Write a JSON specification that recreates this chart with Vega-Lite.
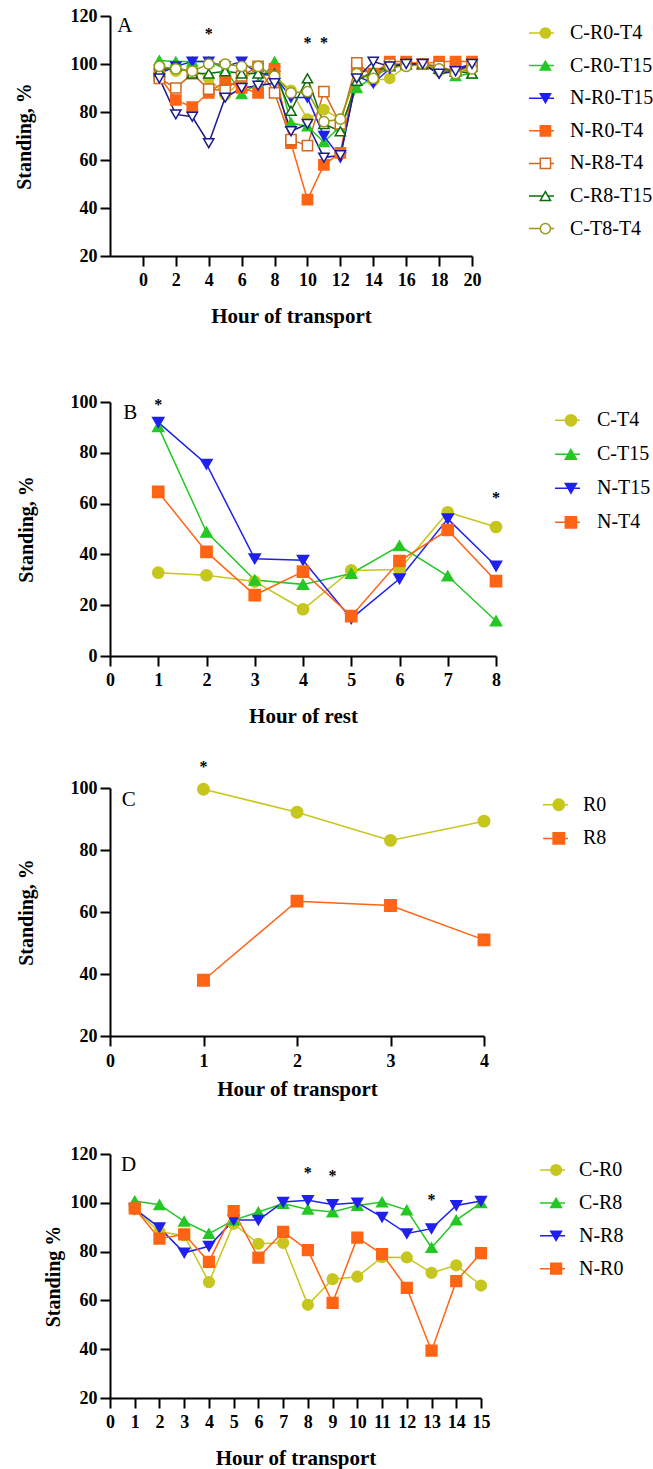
{
"$schema": "https://vega.github.io/schema/vega-lite/v6.json",
"background": "white",
"padding": {"left": 14, "top": 7, "right": 0, "bottom": 0},
"spacing": 10,
"bounds": "full",
"resolve": {"scale": {"color": "independent", "shape": "independent", "stroke": "independent", "fill": "independent"}, "legend": {"color": "independent", "shape": "independent", "stroke": "independent", "fill": "independent"}},
"datasets": {
"a": [
{"series":"C-R0-T4","hour":1,"value":99},{"series":"C-R0-T4","hour":2,"value":97},{"series":"C-R0-T4","hour":3,"value":98},{"series":"C-R0-T4","hour":4,"value":94},{"series":"C-R0-T4","hour":5,"value":87},{"series":"C-R0-T4","hour":6,"value":93},{"series":"C-R0-T4","hour":7,"value":98.5},{"series":"C-R0-T4","hour":8,"value":95},{"series":"C-R0-T4","hour":9,"value":89},{"series":"C-R0-T4","hour":10,"value":77},{"series":"C-R0-T4","hour":11,"value":81},{"series":"C-R0-T4","hour":12,"value":77},{"series":"C-R0-T4","hour":13,"value":96},{"series":"C-R0-T4","hour":14,"value":93},{"series":"C-R0-T4","hour":15,"value":94},{"series":"C-R0-T4","hour":16,"value":99},{"series":"C-R0-T4","hour":17,"value":100},{"series":"C-R0-T4","hour":18,"value":97},{"series":"C-R0-T4","hour":19,"value":96},{"series":"C-R0-T4","hour":20,"value":99},
{"series":"C-R0-T15","hour":1,"value":101.5},{"series":"C-R0-T15","hour":2,"value":101},{"series":"C-R0-T15","hour":3,"value":101},{"series":"C-R0-T15","hour":4,"value":101},{"series":"C-R0-T15","hour":5,"value":98},{"series":"C-R0-T15","hour":6,"value":87.5},{"series":"C-R0-T15","hour":7,"value":92},{"series":"C-R0-T15","hour":8,"value":101},{"series":"C-R0-T15","hour":9,"value":75.5},{"series":"C-R0-T15","hour":10,"value":74},{"series":"C-R0-T15","hour":11,"value":67.5},{"series":"C-R0-T15","hour":12,"value":74},{"series":"C-R0-T15","hour":13,"value":90},{"series":"C-R0-T15","hour":14,"value":94.5},{"series":"C-R0-T15","hour":15,"value":99.5},{"series":"C-R0-T15","hour":16,"value":100},{"series":"C-R0-T15","hour":17,"value":100},{"series":"C-R0-T15","hour":18,"value":99},{"series":"C-R0-T15","hour":19,"value":95},{"series":"C-R0-T15","hour":20,"value":96},
{"series":"N-R0-T15","hour":1,"value":96},{"series":"N-R0-T15","hour":2,"value":99},{"series":"N-R0-T15","hour":3,"value":101},{"series":"N-R0-T15","hour":4,"value":101},{"series":"N-R0-T15","hour":5,"value":99},{"series":"N-R0-T15","hour":6,"value":101},{"series":"N-R0-T15","hour":7,"value":96},{"series":"N-R0-T15","hour":8,"value":95},{"series":"N-R0-T15","hour":9,"value":86},{"series":"N-R0-T15","hour":10,"value":86},{"series":"N-R0-T15","hour":11,"value":70},{"series":"N-R0-T15","hour":12,"value":61},{"series":"N-R0-T15","hour":13,"value":95},{"series":"N-R0-T15","hour":14,"value":92},{"series":"N-R0-T15","hour":15,"value":98},{"series":"N-R0-T15","hour":16,"value":100},{"series":"N-R0-T15","hour":17,"value":100},{"series":"N-R0-T15","hour":18,"value":96},{"series":"N-R0-T15","hour":19,"value":98},{"series":"N-R0-T15","hour":20,"value":100},
{"series":"N-R0-T4","hour":1,"value":95},{"series":"N-R0-T4","hour":2,"value":85},{"series":"N-R0-T4","hour":3,"value":82},{"series":"N-R0-T4","hour":4,"value":88},{"series":"N-R0-T4","hour":5,"value":93},{"series":"N-R0-T4","hour":6,"value":90},{"series":"N-R0-T4","hour":7,"value":88},{"series":"N-R0-T4","hour":8,"value":98},{"series":"N-R0-T4","hour":9,"value":67},{"series":"N-R0-T4","hour":10,"value":43.5},{"series":"N-R0-T4","hour":11,"value":58},{"series":"N-R0-T4","hour":12,"value":63},{"series":"N-R0-T4","hour":13,"value":98},{"series":"N-R0-T4","hour":14,"value":96},{"series":"N-R0-T4","hour":15,"value":101},{"series":"N-R0-T4","hour":16,"value":101},{"series":"N-R0-T4","hour":17,"value":100},{"series":"N-R0-T4","hour":18,"value":101},{"series":"N-R0-T4","hour":19,"value":101},{"series":"N-R0-T4","hour":20,"value":101},
{"series":"N-R8-T4","hour":1,"value":94},{"series":"N-R8-T4","hour":2,"value":90},{"series":"N-R8-T4","hour":3,"value":96},{"series":"N-R8-T4","hour":4,"value":89.5},{"series":"N-R8-T4","hour":5,"value":89},{"series":"N-R8-T4","hour":6,"value":95},{"series":"N-R8-T4","hour":7,"value":99},{"series":"N-R8-T4","hour":8,"value":88},{"series":"N-R8-T4","hour":9,"value":68.5},{"series":"N-R8-T4","hour":10,"value":66},{"series":"N-R8-T4","hour":11,"value":88.5},{"series":"N-R8-T4","hour":12,"value":75},{"series":"N-R8-T4","hour":13,"value":100.5},{"series":"N-R8-T4","hour":14,"value":95},{"series":"N-R8-T4","hour":15,"value":100},{"series":"N-R8-T4","hour":16,"value":100},{"series":"N-R8-T4","hour":17,"value":100},{"series":"N-R8-T4","hour":18,"value":99},{"series":"N-R8-T4","hour":19,"value":97},{"series":"N-R8-T4","hour":20,"value":99},
{"series":"C-R8-T15","hour":1,"value":97},{"series":"C-R8-T15","hour":2,"value":99},{"series":"C-R8-T15","hour":3,"value":96},{"series":"C-R8-T15","hour":4,"value":96},{"series":"C-R8-T15","hour":5,"value":97},{"series":"C-R8-T15","hour":6,"value":96},{"series":"C-R8-T15","hour":7,"value":96},{"series":"C-R8-T15","hour":8,"value":96},{"series":"C-R8-T15","hour":9,"value":80.5},{"series":"C-R8-T15","hour":10,"value":94},{"series":"C-R8-T15","hour":11,"value":75},{"series":"C-R8-T15","hour":12,"value":72},{"series":"C-R8-T15","hour":13,"value":93},{"series":"C-R8-T15","hour":14,"value":97},{"series":"C-R8-T15","hour":15,"value":99},{"series":"C-R8-T15","hour":16,"value":100},{"series":"C-R8-T15","hour":17,"value":100},{"series":"C-R8-T15","hour":18,"value":98},{"series":"C-R8-T15","hour":19,"value":97},{"series":"C-R8-T15","hour":20,"value":96},
{"series":"C-T8-T4","hour":1,"value":99},{"series":"C-T8-T4","hour":2,"value":98},{"series":"C-T8-T4","hour":3,"value":97},{"series":"C-T8-T4","hour":4,"value":100},{"series":"C-T8-T4","hour":5,"value":100},{"series":"C-T8-T4","hour":6,"value":99},{"series":"C-T8-T4","hour":7,"value":99},{"series":"C-T8-T4","hour":8,"value":95},{"series":"C-T8-T4","hour":9,"value":88},{"series":"C-T8-T4","hour":10,"value":88.5},{"series":"C-T8-T4","hour":11,"value":76},{"series":"C-T8-T4","hour":12,"value":77},{"series":"C-T8-T4","hour":13,"value":96},{"series":"C-T8-T4","hour":14,"value":94},{"series":"C-T8-T4","hour":15,"value":99},{"series":"C-T8-T4","hour":16,"value":99},{"series":"C-T8-T4","hour":17,"value":100},{"series":"C-T8-T4","hour":18,"value":98},{"series":"C-T8-T4","hour":19,"value":96},{"series":"C-T8-T4","hour":20,"value":98},
{"series":"N-R8-T15","hour":1,"value":94},{"series":"N-R8-T15","hour":2,"value":79},{"series":"N-R8-T15","hour":3,"value":78},{"series":"N-R8-T15","hour":4,"value":67},{"series":"N-R8-T15","hour":5,"value":86},{"series":"N-R8-T15","hour":6,"value":90},{"series":"N-R8-T15","hour":7,"value":91},{"series":"N-R8-T15","hour":8,"value":92},{"series":"N-R8-T15","hour":9,"value":72},{"series":"N-R8-T15","hour":10,"value":75},{"series":"N-R8-T15","hour":11,"value":61},{"series":"N-R8-T15","hour":12,"value":62},{"series":"N-R8-T15","hour":13,"value":94},{"series":"N-R8-T15","hour":14,"value":101},{"series":"N-R8-T15","hour":15,"value":99},{"series":"N-R8-T15","hour":16,"value":100},{"series":"N-R8-T15","hour":17,"value":100},{"series":"N-R8-T15","hour":18,"value":96},{"series":"N-R8-T15","hour":19,"value":97},{"series":"N-R8-T15","hour":20,"value":100}
],
"a_star": [{"hour":4,"value":114.7,"t":"*"},{"hour":10,"value":111,"t":"*"},{"hour":11,"value":111,"t":"*"}],
"a_letter": [{"hour":-1.1,"value":116,"t":"A"}],
"b": [
{"series":"C-T4","hour":1,"value":32.8},{"series":"C-T4","hour":2,"value":31.8},{"series":"C-T4","hour":3,"value":29.3},{"series":"C-T4","hour":4,"value":18.4},{"series":"C-T4","hour":5,"value":33.7},{"series":"C-T4","hour":6,"value":34.1},{"series":"C-T4","hour":7,"value":56.6},{"series":"C-T4","hour":8,"value":50.8},
{"series":"C-T15","hour":1,"value":90.3},{"series":"C-T15","hour":2,"value":48.8},{"series":"C-T15","hour":3,"value":29.9},{"series":"C-T15","hour":4,"value":28.2},{"series":"C-T15","hour":5,"value":32.5},{"series":"C-T15","hour":6,"value":43.4},{"series":"C-T15","hour":7,"value":31.5},{"series":"C-T15","hour":8,"value":13.8},
{"series":"N-T15","hour":1,"value":92},{"series":"N-T15","hour":2,"value":75.5},{"series":"N-T15","hour":3,"value":38.3},{"series":"N-T15","hour":4,"value":37.7},{"series":"N-T15","hour":5,"value":14.7},{"series":"N-T15","hour":6,"value":30.4},{"series":"N-T15","hour":7,"value":54},{"series":"N-T15","hour":8,"value":35.4},
{"series":"N-T4","hour":1,"value":64.6},{"series":"N-T4","hour":2,"value":41},{"series":"N-T4","hour":3,"value":24},{"series":"N-T4","hour":4,"value":33.2},{"series":"N-T4","hour":5,"value":15.7},{"series":"N-T4","hour":6,"value":37.4},{"series":"N-T4","hour":7,"value":49.6},{"series":"N-T4","hour":8,"value":29.5}
],
"b_star": [{"hour":1,"value":100.6,"t":"*"},{"hour":8,"value":64,"t":"*"}],
"b_letter": [{"hour":0.42,"value":95.7,"t":"B"}],
"c": [
{"series":"R0","hour":1,"value":99.6},{"series":"R0","hour":2,"value":92.2},{"series":"R0","hour":3,"value":83.1},{"series":"R0","hour":4,"value":89.3},
{"series":"R8","hour":1,"value":38},{"series":"R8","hour":2,"value":63.5},{"series":"R8","hour":3,"value":62.1},{"series":"R8","hour":4,"value":51}
],
"c_star": [{"hour":1,"value":108.5,"t":"*"}],
"c_letter": [{"hour":0.2,"value":96.1,"t":"C"}],
"d": [
{"series":"C-R0","hour":1,"value":97.3},{"series":"C-R0","hour":2,"value":88.1},{"series":"C-R0","hour":3,"value":86.6},{"series":"C-R0","hour":4,"value":67.5},{"series":"C-R0","hour":5,"value":91.4},{"series":"C-R0","hour":6,"value":83.2},{"series":"C-R0","hour":7,"value":83.6},{"series":"C-R0","hour":8,"value":58.2},{"series":"C-R0","hour":9,"value":68.7},{"series":"C-R0","hour":10,"value":69.7},{"series":"C-R0","hour":11,"value":77.7},{"series":"C-R0","hour":12,"value":77.6},{"series":"C-R0","hour":13,"value":71.3},{"series":"C-R0","hour":14,"value":74.4},{"series":"C-R0","hour":15,"value":66.1},
{"series":"C-R8","hour":1,"value":100.7},{"series":"C-R8","hour":2,"value":99.2},{"series":"C-R8","hour":3,"value":92.4},{"series":"C-R8","hour":4,"value":87.4},{"series":"C-R8","hour":5,"value":92.9},{"series":"C-R8","hour":6,"value":96.2},{"series":"C-R8","hour":7,"value":99.7},{"series":"C-R8","hour":8,"value":97.3},{"series":"C-R8","hour":9,"value":96.2},{"series":"C-R8","hour":10,"value":98.9},{"series":"C-R8","hour":11,"value":100.3},{"series":"C-R8","hour":12,"value":97},{"series":"C-R8","hour":13,"value":81.6},{"series":"C-R8","hour":14,"value":92.9},{"series":"C-R8","hour":15,"value":100},
{"series":"N-R8","hour":1,"value":97.5},{"series":"N-R8","hour":2,"value":89.8},{"series":"N-R8","hour":3,"value":79.5},{"series":"N-R8","hour":4,"value":82.2},{"series":"N-R8","hour":5,"value":92.9},{"series":"N-R8","hour":6,"value":92.9},{"series":"N-R8","hour":7,"value":100.3},{"series":"N-R8","hour":8,"value":101},{"series":"N-R8","hour":9,"value":99.3},{"series":"N-R8","hour":10,"value":100},{"series":"N-R8","hour":11,"value":94.1},{"series":"N-R8","hour":12,"value":87.4},{"series":"N-R8","hour":13,"value":89.4},{"series":"N-R8","hour":14,"value":98.9},{"series":"N-R8","hour":15,"value":100.7},
{"series":"N-R0","hour":1,"value":97.7},{"series":"N-R0","hour":2,"value":85.3},{"series":"N-R0","hour":3,"value":87.1},{"series":"N-R0","hour":4,"value":75.8},{"series":"N-R0","hour":5,"value":96.6},{"series":"N-R0","hour":6,"value":77.5},{"series":"N-R0","hour":7,"value":88.1},{"series":"N-R0","hour":8,"value":80.6},{"series":"N-R0","hour":9,"value":59},{"series":"N-R0","hour":10,"value":85.7},{"series":"N-R0","hour":11,"value":79},{"series":"N-R0","hour":12,"value":65.1},{"series":"N-R0","hour":13,"value":39.4},{"series":"N-R0","hour":14,"value":67.9},{"series":"N-R0","hour":15,"value":79.4}
],
"d_star": [{"hour":8,"value":114.4,"t":"*"},{"hour":9,"value":112.9,"t":"*"},{"hour":13,"value":103.3,"t":"*"}],
"d_letter": [{"hour":0.75,"value":115.4,"t":"D"}]
},
"vconcat": [
{
"width": 362, "height": 240,
"encoding": {
"x": {"field": "hour", "type": "quantitative", "scale": {"domain": [-2, 20], "nice": false, "zero": false}, "axis": {"values": [0,2,4,6,8,10,12,14,16,18,20], "title": "Hour of transport", "titlePadding": 16.5}},
"y": {"field": "value", "type": "quantitative", "scale": {"domain": [20, 120], "nice": false, "zero": false}, "axis": {"values": [20,40,60,80,100,120], "title": "Standing, %", "titlePadding": 36}}
},
"layer": [
{"data": {"name": "a"}, "mark": {"type": "line", "strokeWidth": 1.5},
 "encoding": {"color": {"field": "series", "type": "nominal",
  "scale": {"domain": ["N-R8-T15","C-R0-T4","C-R0-T15","N-R0-T15","N-R0-T4","N-R8-T4","C-R8-T15","C-T8-T4"], "range": ["#1b1b8f","#c6c61e","#25c725","#2020ee","#ff6414","#d2691e","#0c6b0c","#999918"]},
  "legend": {"title": null, "orient": "none", "legendX": 418, "legendY": 7, "symbolType": "stroke", "symbolSize": 625, "symbolStrokeWidth": 1.5, "labelOffset": 15, "rowPadding": 12.6, "clipHeight": 20, "values": ["C-R0-T4","C-R0-T15","N-R0-T15","N-R0-T4","N-R8-T4","C-R8-T15","C-T8-T4"]}}}},
{"data": {"name": "a"}, "mark": {"type": "point", "opacity": 1, "strokeWidth": 1.5, "size": 105},
 "encoding": {
  "shape": {"field": "series", "type": "nominal", "scale": {"domain": ["C-R0-T4","C-R0-T15","N-R0-T15","N-R0-T4","N-R8-T4","C-R8-T15","C-T8-T4","N-R8-T15"], "range": ["circle","triangle-up","triangle-down","square","square","triangle-up","circle","triangle-down"]},
   "legend": {"title": null, "orient": "none", "legendX": 418, "legendY": 7, "symbolSize": 105, "symbolStrokeWidth": 1.5, "symbolOffset": 7.4, "labelOffset": 15, "labelOpacity": 0, "rowPadding": 12.6, "clipHeight": 20, "values": ["C-R0-T4","C-R0-T15","N-R0-T15","N-R0-T4","N-R8-T4","C-R8-T15","C-T8-T4"]}},
  "stroke": {"field": "series", "type": "nominal", "scale": {"domain": ["C-R0-T4","C-R0-T15","N-R0-T15","N-R0-T4","N-R8-T4","C-R8-T15","C-T8-T4","N-R8-T15"], "range": ["#c6c61e","#25c725","#2020ee","#ff6414","#d2691e","#0c6b0c","#999918","#1b1b8f"]},
   "legend": {"title": null, "orient": "none", "legendX": 418, "legendY": 7, "symbolSize": 105, "symbolStrokeWidth": 1.5, "symbolOffset": 7.4, "labelOffset": 15, "labelOpacity": 0, "rowPadding": 12.6, "clipHeight": 20, "values": ["C-R0-T4","C-R0-T15","N-R0-T15","N-R0-T4","N-R8-T4","C-R8-T15","C-T8-T4"]}},
  "fill": {"field": "series", "type": "nominal", "scale": {"domain": ["C-R0-T4","C-R0-T15","N-R0-T15","N-R0-T4","N-R8-T4","C-R8-T15","C-T8-T4","N-R8-T15"], "range": ["#c6c61e","#25c725","#2020ee","#ff6414","#ffffff","#ffffff","#ffffff","#ffffff"]},
   "legend": {"title": null, "orient": "none", "legendX": 418, "legendY": 7, "symbolSize": 105, "symbolStrokeWidth": 1.5, "symbolOffset": 7.4, "labelOffset": 15, "labelOpacity": 0, "rowPadding": 12.6, "clipHeight": 20, "values": ["C-R0-T4","C-R0-T15","N-R0-T15","N-R0-T4","N-R8-T4","C-R8-T15","C-T8-T4"]}}
 }},
{"data": {"name": "a_star"}, "mark": {"type": "text", "font": "Liberation Serif", "fontSize": 16, "fontWeight": "bold", "color": "#000", "baseline": "middle", "dy": 5}, "encoding": {"text": {"field": "t"}}},
{"data": {"name": "a_letter"}, "mark": {"type": "text", "font": "Liberation Serif", "fontSize": 21, "color": "#000", "baseline": "middle"}, "encoding": {"text": {"field": "t"}}}
]
},
{
"width": 386, "height": 254,
"title": {"text": " ", "fontSize": 1, "offset": 55},
"encoding": {
"x": {"field": "hour", "type": "quantitative", "scale": {"domain": [0, 8], "nice": false, "zero": false}, "axis": {"values": [0,1,2,3,4,5,6,7,8], "title": "Hour of rest", "titlePadding": 16.5}},
"y": {"field": "value", "type": "quantitative", "scale": {"domain": [0, 100], "nice": false, "zero": false}, "axis": {"values": [0,20,40,60,80,100], "title": "Standing, %", "titlePadding": 34}}
},
"layer": [
{"data": {"name": "b"}, "mark": {"type": "line", "strokeWidth": 1.5},
 "encoding": {"color": {"field": "series", "type": "nominal",
  "scale": {"domain": ["N-T4","N-T15","C-T15","C-T4"], "range": ["#ff6414","#2020ee","#25c725","#c6c61e"]},
  "legend": {"title": null, "orient": "none", "legendX": 444, "legendY": 8.3, "symbolType": "stroke", "symbolSize": 625, "symbolStrokeWidth": 1.5, "labelOffset": 16, "rowPadding": 14, "clipHeight": 20, "values": ["C-T4","C-T15","N-T15","N-T4"]}}}},
{"data": {"name": "b"}, "mark": {"type": "point", "opacity": 1, "strokeWidth": 1.5, "size": 125},
 "encoding": {
  "shape": {"field": "series", "type": "nominal", "scale": {"domain": ["C-T4","C-T15","N-T15","N-T4"], "range": ["circle","triangle-up","triangle-down","square"]},
   "legend": {"title": null, "orient": "none", "legendX": 444, "legendY": 8.3, "symbolSize": 125, "symbolStrokeWidth": 1.5, "symbolOffset": 6.9, "labelOffset": 16, "labelOpacity": 0, "rowPadding": 14, "clipHeight": 20, "values": ["C-T4","C-T15","N-T15","N-T4"]}},
  "stroke": {"field": "series", "type": "nominal", "scale": {"domain": ["C-T4","C-T15","N-T15","N-T4"], "range": ["#c6c61e","#25c725","#2020ee","#ff6414"]},
   "legend": {"title": null, "orient": "none", "legendX": 444, "legendY": 8.3, "symbolSize": 125, "symbolStrokeWidth": 1.5, "symbolOffset": 6.9, "labelOffset": 16, "labelOpacity": 0, "rowPadding": 14, "clipHeight": 20, "values": ["C-T4","C-T15","N-T15","N-T4"]}},
  "fill": {"field": "series", "type": "nominal", "scale": {"domain": ["C-T4","C-T15","N-T15","N-T4"], "range": ["#c6c61e","#25c725","#2020ee","#ff6414"]},
   "legend": {"title": null, "orient": "none", "legendX": 444, "legendY": 8.3, "symbolSize": 125, "symbolStrokeWidth": 1.5, "symbolOffset": 6.9, "labelOffset": 16, "labelOpacity": 0, "rowPadding": 14, "clipHeight": 20, "values": ["C-T4","C-T15","N-T15","N-T4"]}}
 }},
{"data": {"name": "b_star"}, "mark": {"type": "text", "font": "Liberation Serif", "fontSize": 16, "fontWeight": "bold", "color": "#000", "baseline": "middle", "dy": 5}, "encoding": {"text": {"field": "t"}}},
{"data": {"name": "b_letter"}, "mark": {"type": "text", "font": "Liberation Serif", "fontSize": 21, "color": "#000", "baseline": "middle"}, "encoding": {"text": {"field": "t"}}}
]
},
{
"width": 374, "height": 248,
"title": {"text": " ", "fontSize": 1, "offset": 20},
"encoding": {
"x": {"field": "hour", "type": "quantitative", "scale": {"domain": [0, 4], "nice": false, "zero": false}, "axis": {"values": [0,1,2,3,4], "title": "Hour of transport", "titlePadding": 7.8, "labelPadding": 6.7}},
"y": {"field": "value", "type": "quantitative", "scale": {"domain": [20, 100], "nice": false, "zero": false}, "axis": {"values": [20,40,60,80,100], "title": "Standing, %", "titlePadding": 34}}
},
"layer": [
{"data": {"name": "c"}, "mark": {"type": "line", "strokeWidth": 1.5},
 "encoding": {"color": {"field": "series", "type": "nominal",
  "scale": {"domain": ["R8","R0"], "range": ["#ff6414","#c6c61e"]},
  "legend": {"title": null, "orient": "none", "legendX": 432, "legendY": 6.7, "symbolType": "stroke", "symbolSize": 625, "symbolStrokeWidth": 1.5, "labelOffset": 14, "rowPadding": 13.7, "clipHeight": 20, "values": ["R0","R8"]}}}},
{"data": {"name": "c"}, "mark": {"type": "point", "opacity": 1, "strokeWidth": 1.5, "size": 130},
 "encoding": {
  "shape": {"field": "series", "type": "nominal", "scale": {"domain": ["R0","R8"], "range": ["circle","square"]},
   "legend": {"title": null, "orient": "none", "legendX": 432, "legendY": 6.7, "symbolSize": 130, "symbolStrokeWidth": 1.5, "symbolOffset": 6.8, "labelOffset": 14, "labelOpacity": 0, "rowPadding": 13.7, "clipHeight": 20, "values": ["R0","R8"]}},
  "stroke": {"field": "series", "type": "nominal", "scale": {"domain": ["R0","R8"], "range": ["#c6c61e","#ff6414"]},
   "legend": {"title": null, "orient": "none", "legendX": 432, "legendY": 6.7, "symbolSize": 130, "symbolStrokeWidth": 1.5, "symbolOffset": 6.8, "labelOffset": 14, "labelOpacity": 0, "rowPadding": 13.7, "clipHeight": 20, "values": ["R0","R8"]}},
  "fill": {"field": "series", "type": "nominal", "scale": {"domain": ["R0","R8"], "range": ["#c6c61e","#ff6414"]},
   "legend": {"title": null, "orient": "none", "legendX": 432, "legendY": 6.7, "symbolSize": 130, "symbolStrokeWidth": 1.5, "symbolOffset": 6.8, "labelOffset": 14, "labelOpacity": 0, "rowPadding": 13.7, "clipHeight": 20, "values": ["R0","R8"]}}
 }},
{"data": {"name": "c_star"}, "mark": {"type": "text", "font": "Liberation Serif", "fontSize": 16, "fontWeight": "bold", "color": "#000", "baseline": "middle", "dy": 5}, "encoding": {"text": {"field": "t"}}},
{"data": {"name": "c_letter"}, "mark": {"type": "text", "font": "Liberation Serif", "fontSize": 21, "color": "#000", "baseline": "middle"}, "encoding": {"text": {"field": "t"}}}
]
},
{
"width": 371, "height": 244,
"title": {"text": " ", "fontSize": 1, "offset": 34},
"encoding": {
"x": {"field": "hour", "type": "quantitative", "scale": {"domain": [0, 15], "nice": false, "zero": false}, "axis": {"values": [0,1,2,3,4,5,6,7,8,9,10,11,12,13,14,15], "title": "Hour of transport", "titlePadding": 16.5}},
"y": {"field": "value", "type": "quantitative", "scale": {"domain": [20, 120], "nice": false, "zero": false}, "axis": {"values": [20,40,60,80,100,120], "title": "Standing %", "titlePadding": 7}}
},
"layer": [
{"data": {"name": "d"}, "mark": {"type": "line", "strokeWidth": 1.5},
 "encoding": {"color": {"field": "series", "type": "nominal",
  "scale": {"domain": ["N-R0","N-R8","C-R8","C-R0"], "range": ["#ff6414","#2020ee","#25c725","#c6c61e"]},
  "legend": {"title": null, "orient": "none", "legendX": 429, "legendY": 6, "symbolType": "stroke", "symbolSize": 625, "symbolStrokeWidth": 1.5, "labelOffset": 13, "rowPadding": 12.9, "clipHeight": 20, "values": ["C-R0","C-R8","N-R8","N-R0"]}}}},
{"data": {"name": "d"}, "mark": {"type": "point", "opacity": 1, "strokeWidth": 1.5, "size": 115},
 "encoding": {
  "shape": {"field": "series", "type": "nominal", "scale": {"domain": ["C-R0","C-R8","N-R8","N-R0"], "range": ["circle","triangle-up","triangle-down","square"]},
   "legend": {"title": null, "orient": "none", "legendX": 429, "legendY": 6, "symbolSize": 115, "symbolStrokeWidth": 1.5, "symbolOffset": 7.1, "labelOffset": 13, "labelOpacity": 0, "rowPadding": 12.9, "clipHeight": 20, "values": ["C-R0","C-R8","N-R8","N-R0"]}},
  "stroke": {"field": "series", "type": "nominal", "scale": {"domain": ["C-R0","C-R8","N-R8","N-R0"], "range": ["#c6c61e","#25c725","#2020ee","#ff6414"]},
   "legend": {"title": null, "orient": "none", "legendX": 429, "legendY": 6, "symbolSize": 115, "symbolStrokeWidth": 1.5, "symbolOffset": 7.1, "labelOffset": 13, "labelOpacity": 0, "rowPadding": 12.9, "clipHeight": 20, "values": ["C-R0","C-R8","N-R8","N-R0"]}},
  "fill": {"field": "series", "type": "nominal", "scale": {"domain": ["C-R0","C-R8","N-R8","N-R0"], "range": ["#c6c61e","#25c725","#2020ee","#ff6414"]},
   "legend": {"title": null, "orient": "none", "legendX": 429, "legendY": 6, "symbolSize": 115, "symbolStrokeWidth": 1.5, "symbolOffset": 7.1, "labelOffset": 13, "labelOpacity": 0, "rowPadding": 12.9, "clipHeight": 20, "values": ["C-R0","C-R8","N-R8","N-R0"]}}
 }},
{"data": {"name": "d_star"}, "mark": {"type": "text", "font": "Liberation Serif", "fontSize": 16, "fontWeight": "bold", "color": "#000", "baseline": "middle", "dy": 5}, "encoding": {"text": {"field": "t"}}},
{"data": {"name": "d_letter"}, "mark": {"type": "text", "font": "Liberation Serif", "fontSize": 21, "color": "#000", "baseline": "middle"}, "encoding": {"text": {"field": "t"}}}
]
}
],
"config": {
"view": {"stroke": null},
"font": "Liberation Serif",
"axis": {"domainColor": "#000", "domainWidth": 2, "tickColor": "#000", "tickWidth": 2, "tickSize": 10, "labelFont": "Liberation Serif", "labelFontSize": 18, "labelFontWeight": "bold", "labelColor": "#000", "titleFont": "Liberation Serif", "titleFontWeight": "bold", "titleColor": "#000", "grid": false, "labelFlush": false, "labelOverlap": false},
"axisX": {"labelPadding": 5, "titleFontSize": 21},
"axisY": {"labelPadding": 3, "titleFontSize": 20},
"legend": {"labelFont": "Liberation Serif", "labelFontSize": 20, "labelColor": "#000", "padding": 0}
}
}
